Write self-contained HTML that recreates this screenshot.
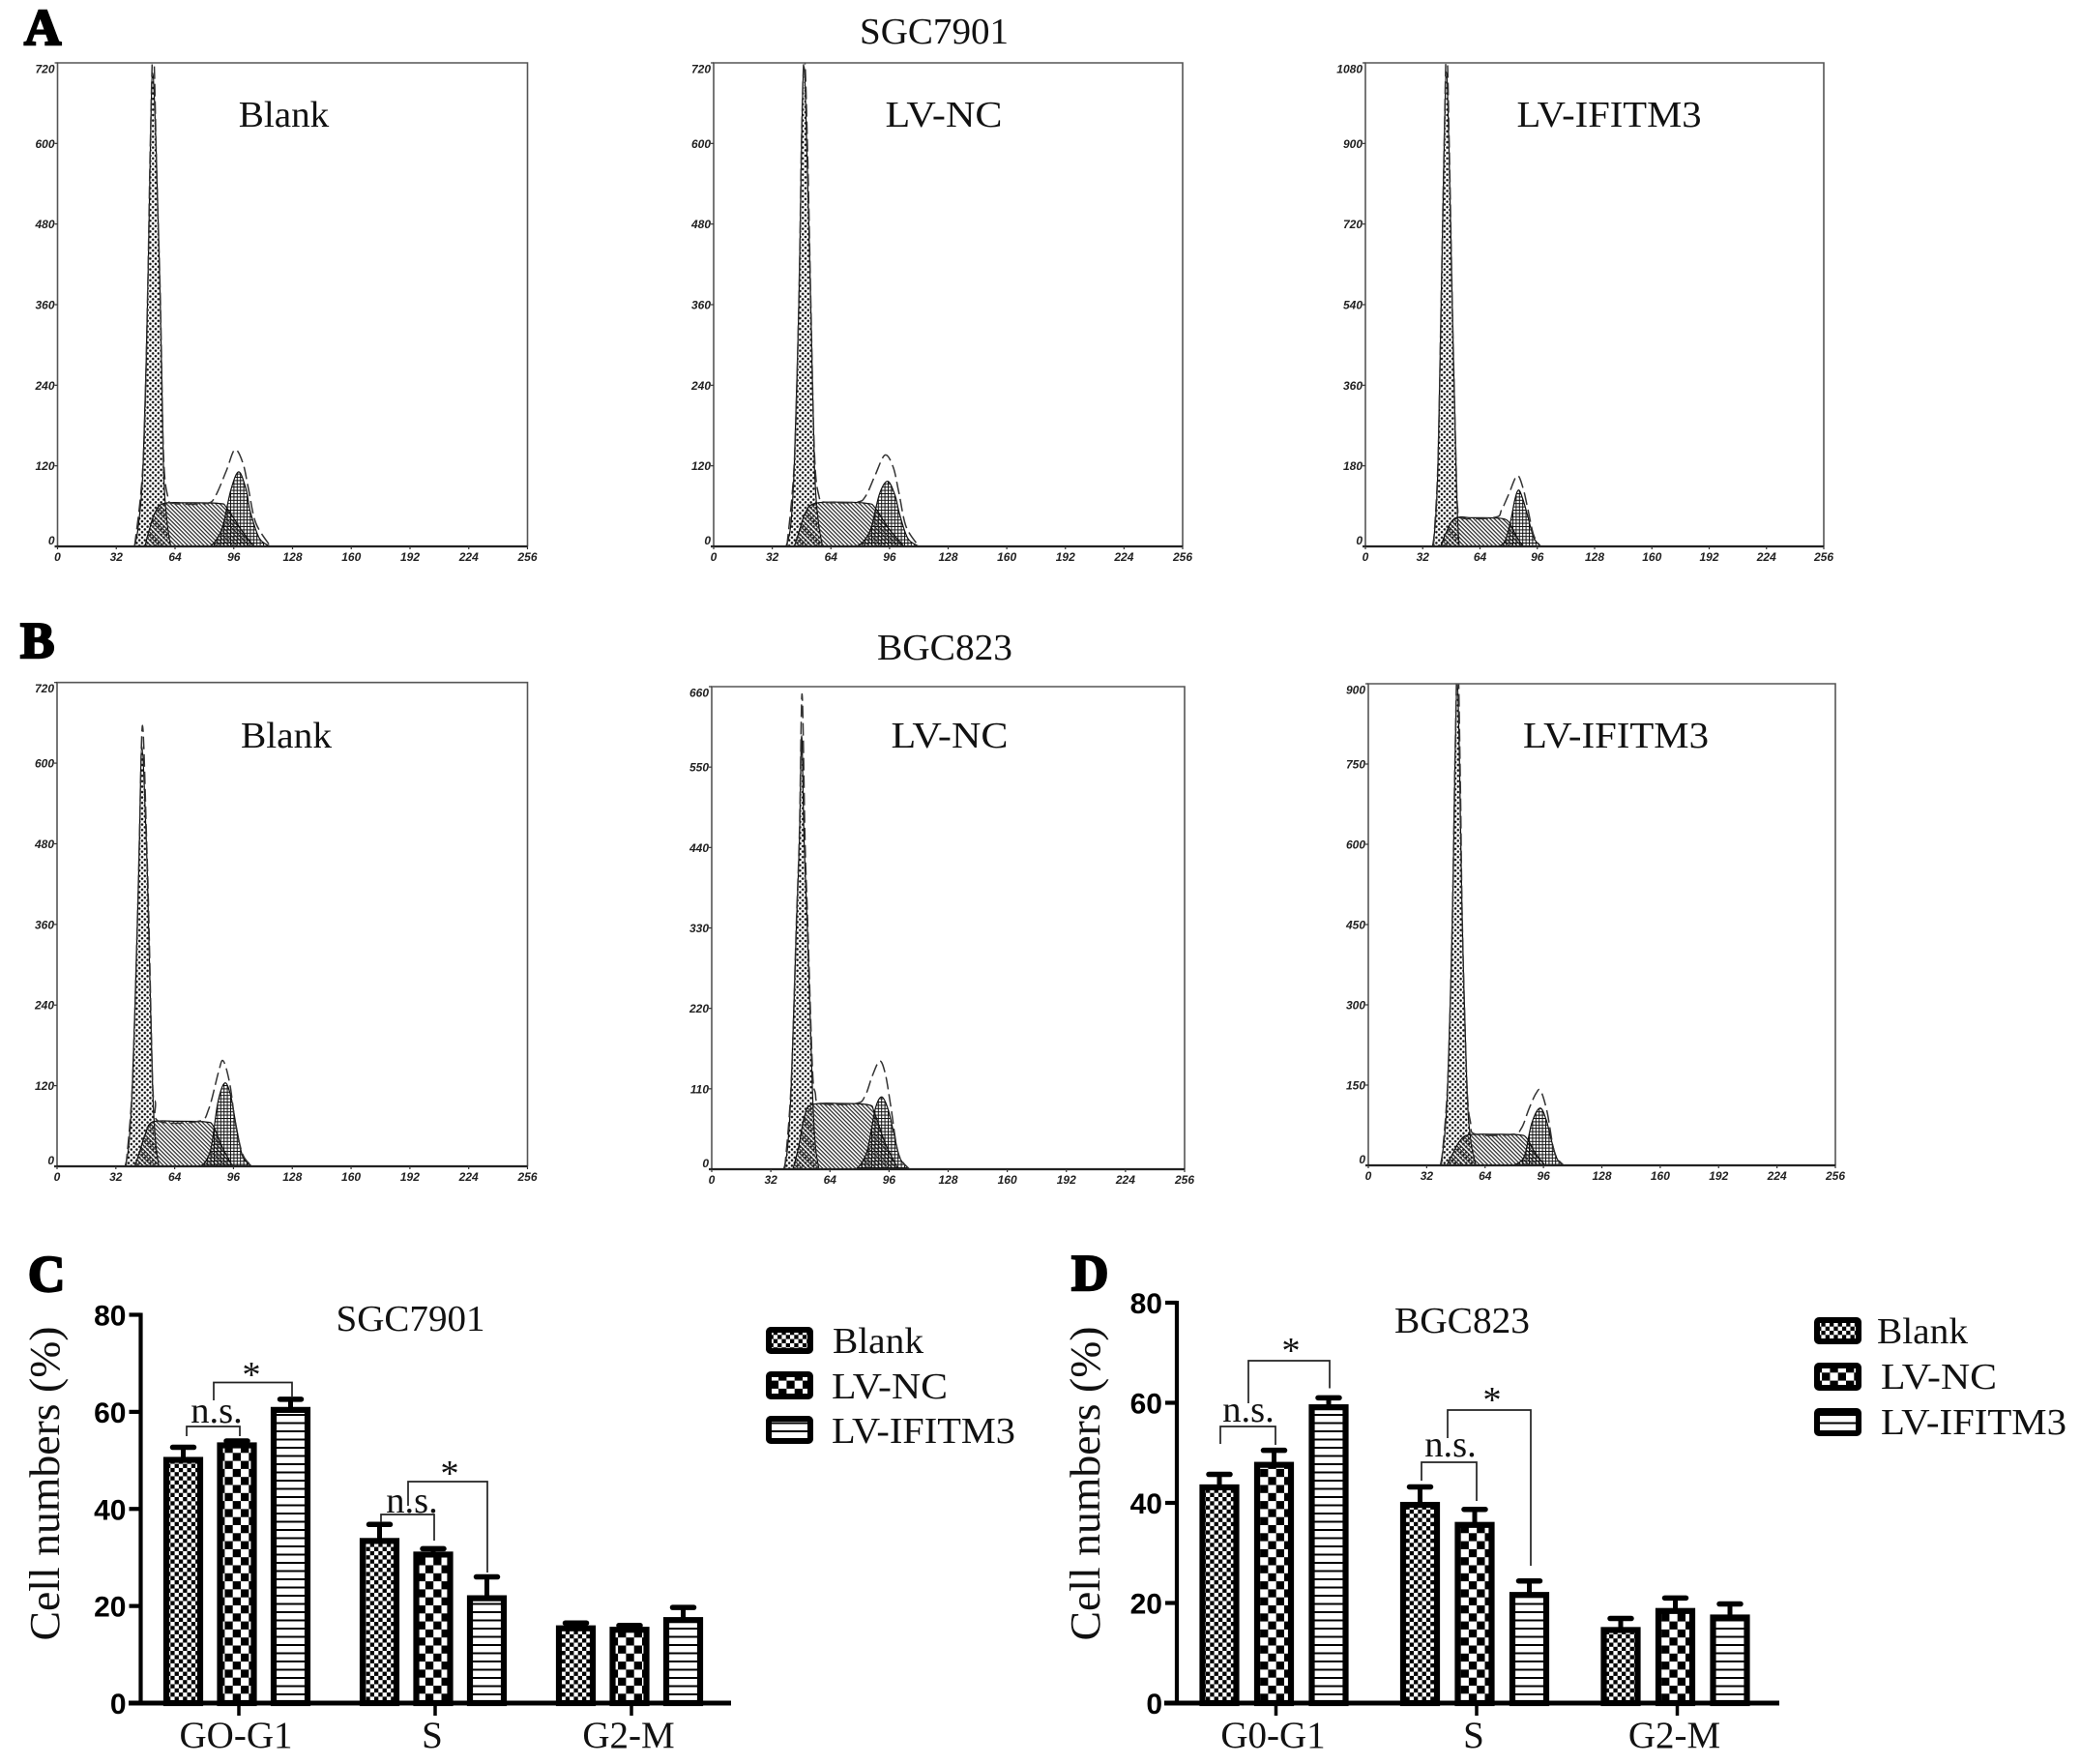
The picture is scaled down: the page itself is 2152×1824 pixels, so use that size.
<!DOCTYPE html>
<html lang="en">
<head>
<meta charset="utf-8">
<title>Cell cycle analysis</title>
<style>
html,body{margin:0;padding:0;background:#fff;width:2152px;height:1824px;overflow:hidden}
svg{display:block}
text{font-family:"Liberation Serif",serif;fill:#111}
.big{font-size:38.5px}
.xl{font-size:39px}
.letter{font-size:53px;font-weight:bold;stroke:#000;stroke-width:2.4px;fill:#000}
.nt{font-size:12px;font-family:"Liberation Sans",sans-serif;font-weight:bold;font-style:italic;fill:#222}
.bt{font-size:30px;font-family:"Liberation Sans",sans-serif;font-weight:bold;fill:#000}
</style>
</head>
<body>
<svg id="figure" xmlns="http://www.w3.org/2000/svg" width="2152" height="1824" viewBox="0 0 2152 1824">
<defs>
<pattern id="g1Dots" patternUnits="userSpaceOnUse" width="5.6" height="5.6"><circle cx="1.4" cy="1.4" r="1.25" fill="#111"/><circle cx="4.2" cy="4.2" r="1.25" fill="#111"/></pattern>
<pattern id="sHatch" patternUnits="userSpaceOnUse" width="3" height="3" patternTransform="rotate(45)"><rect width="3" height="1.25" fill="#2a2a2a"/></pattern>
<pattern id="g2Cross" patternUnits="userSpaceOnUse" width="3.4" height="3.4"><rect width="3.4" height="1" fill="#111"/><rect width="1" height="3.4" fill="#111"/></pattern>
<pattern id="blankCheck" patternUnits="userSpaceOnUse" width="8.6" height="8.6"><rect width="8.6" height="8.6" fill="#fff"/><rect width="4.3" height="4.3" fill="#000"/><rect x="4.3" y="4.3" width="4.3" height="4.3" fill="#000"/></pattern>
<pattern id="ncCheck" patternUnits="userSpaceOnUse" width="16.6" height="16.6"><rect width="16.6" height="16.6" fill="#fff"/><rect width="8.3" height="8.3" fill="#000"/><rect x="8.3" y="8.3" width="8.3" height="8.3" fill="#000"/></pattern>
<pattern id="ifStripe" patternUnits="userSpaceOnUse" width="8.5" height="8.5"><rect width="8.5" height="8.5" fill="#fff"/><rect width="8.5" height="2" fill="#000"/></pattern>
</defs>

<text class="letter" x="25" y="46">A</text>
<text class="letter" x="21" y="680">B</text>
<text class="letter" x="29" y="1335">C</text>
<text class="letter" x="1108" y="1334">D</text>

<text class="big" x="966" y="45" text-anchor="middle" textLength="154" lengthAdjust="spacingAndGlyphs">SGC7901</text>
<text class="big" x="977" y="682" text-anchor="middle" textLength="140" lengthAdjust="spacingAndGlyphs">BGC823</text>

<g id="histograms"></g>

<text class="big" x="293.5" y="131" text-anchor="middle" textLength="93.5" lengthAdjust="spacingAndGlyphs">Blank</text>
<text class="big" x="976" y="131" text-anchor="middle" textLength="121" lengthAdjust="spacingAndGlyphs">LV-NC</text>
<text class="big" x="1664" y="131" text-anchor="middle" textLength="191" lengthAdjust="spacingAndGlyphs">LV-IFITM3</text>
<text class="big" x="296" y="773" text-anchor="middle" textLength="94" lengthAdjust="spacingAndGlyphs">Blank</text>
<text class="big" x="982" y="773" text-anchor="middle" textLength="121" lengthAdjust="spacingAndGlyphs">LV-NC</text>
<text class="big" x="1671" y="773" text-anchor="middle" textLength="192" lengthAdjust="spacingAndGlyphs">LV-IFITM3</text>

<g id="barcharts"></g>

<text class="big" x="424.5" y="1376" text-anchor="middle" textLength="154" lengthAdjust="spacingAndGlyphs">SGC7901</text>
<text class="big" x="1512" y="1378" text-anchor="middle" textLength="140" lengthAdjust="spacingAndGlyphs">BGC823</text>

<text class="big" transform="translate(61,1534) rotate(-90)" text-anchor="middle" textLength="325" lengthAdjust="spacingAndGlyphs" style="font-size:44px">Cell numbers (%)</text>
<text class="big" transform="translate(1137,1534) rotate(-90)" text-anchor="middle" textLength="325" lengthAdjust="spacingAndGlyphs" style="font-size:44px">Cell numbers (%)</text>

<g>
<rect x="795" y="1375" width="43" height="22" rx="2" fill="url(#blankCheck)" stroke="#000" stroke-width="6"/>
<text class="big" x="861" y="1399" textLength="94" lengthAdjust="spacingAndGlyphs">Blank</text>
<rect x="795" y="1421" width="43" height="23" rx="2" fill="url(#ncCheck)" stroke="#000" stroke-width="6"/>
<text class="big" x="860" y="1446" textLength="120" lengthAdjust="spacingAndGlyphs">LV-NC</text>
<rect x="795" y="1467" width="43" height="23" rx="2" fill="url(#ifStripe)" stroke="#000" stroke-width="6"/>
<text class="big" x="860" y="1492" textLength="190" lengthAdjust="spacingAndGlyphs">LV-IFITM3</text>
</g>
<g>
<rect x="1879" y="1365" width="43" height="22" rx="2" fill="url(#blankCheck)" stroke="#000" stroke-width="6"/>
<text class="big" x="1941" y="1389" textLength="94" lengthAdjust="spacingAndGlyphs">Blank</text>
<rect x="1879" y="1412" width="43" height="23" rx="2" fill="url(#ncCheck)" stroke="#000" stroke-width="6"/>
<text class="big" x="1945" y="1436" textLength="120" lengthAdjust="spacingAndGlyphs">LV-NC</text>
<rect x="1879" y="1459" width="43" height="23" rx="2" fill="url(#ifStripe)" stroke="#000" stroke-width="6"/>
<text class="big" x="1945" y="1483" textLength="192" lengthAdjust="spacingAndGlyphs">LV-IFITM3</text>
</g>
</svg>

<script>
/* ---------- histogram data (channel, count) ---------- */
const xTickValues = [0,32,64,96,128,160,192,224,256];

const a1YTicks = [0,120,240,360,480,600,720];
const a1G1Ch = [41.9,44,46.6,49,50.6,51.8,53.6,56,57.7,59.5,61.7];
const a1G1Ct = [0,30,120,360,600,705,600,360,120,40,0];
const a1SCh = [47.6,50,53,57.7,70,88,92,100,107];
const a1SCt = [0,25,50,64,65,64,58,25,0];
const a1G2Ch = [83,86,90,94.5,98.7,102.7,105,110,116];
const a1G2Ct = [0,8,30,85,111,85,52,12,0];
const a1TotCh = [42,46.6,49,50.6,52.2,54,56,57.7,60,63.8,81,86,92,96.6,101,104,108,116];
const a1TotCt = [0,125,365,610,745,560,370,140,75,64,64,75,113,144,124,86,35,0];

const a2YTicks = [0,120,240,360,480,600,720];
const a2G1Ch = [39.5,42,44,46.5,48,49.3,50.8,53,55,57,59.5];
const a2G1Ct = [0,30,120,360,600,715,600,360,120,40,0];
const a2SCh = [44,47,50,55,70,84,88,96,104];
const a2SCt = [0,25,50,64,66,64,58,25,0];
const a2G2Ch = [78,82,86,90.5,95,99,101.5,106,112];
const a2G2Ct = [0,8,28,78,97,76,48,12,0];
const a2TotCh = [40,44,46.5,48,49.6,51.5,53,55,57.5,61,78,83,88,93.5,98,101,105,112];
const a2TotCt = [0,125,365,610,730,560,370,140,75,66,66,75,105,136,118,82,30,0];

const a3YTicks = [0,180,360,540,720,900,1080];
const a3G1Ch = [37.5,39,40.5,42.3,44,45.2,46.6,48.5,50.6,51.5,52.4];
const a3G1Ct = [0,50,180,540,900,1060,900,540,180,60,0];
const a3SCh = [42,45,50,60,74.4,80,84,88];
const a3SCt = [0,30,63,64,63,55,25,0];
const a3G2Ch = [74.4,78,81,83.5,85.6,88,90.5,94,97.8];
const a3G2Ct = [0,12,55,105,126,105,70,20,0];
const a3TotCh = [38,40.5,42.3,44,45.4,47,48.5,50.6,51.5,53.7,72.6,76,80,84.7,88,91,94,97.8];
const a3TotCt = [0,185,545,905,1120,860,545,190,85,63,65,81,116,158,131,78,25,0];

const b1YTicks = [0,120,240,360,480,600,720];
const b1G1Ch = [37,39,41,43.7,44.8,46.2,48.6,49.8,52,53.5,55.4];
const b1G1Ct = [0,30,120,360,480,625,480,360,120,40,0];
const b1SCh = [42.3,45,48,52,65,80.8,85,90,95.6];
const b1SCt = [0,22,48,66,67,66,60,28,0];
const b1G2Ch = [78,81,84,87.5,91.3,94.5,97.5,101,106];
const b1G2Ct = [0,8,30,95,124,105,60,15,0];
const b1TotCh = [37.5,41,43.7,44.8,46.5,48.8,50,52,53.5,55.4,77,82.5,87.8,90.4,94,97,101,106];
const b1TotCt = [0,122,362,485,656,480,362,125,95,67,67,85,140,157,123,65,18,0];

const b2YTicks = [0,110,220,330,440,550,660];
const b2G1Ch = [39,41,43,45.8,47.5,48.7,50,51.8,54.5,56,58];
const b2G1Ct = [0,28,110,330,450,593,450,330,110,35,0];
const b2SCh = [44,47,50,54,70,85,88,94,101];
const b2SCt = [0,30,70,88,90,88,78,35,0];
const b2G2Ch = [78,81,84.5,88.5,92,95.5,98.5,102,107];
const b2G2Ct = [0,8,28,82,99,82,50,15,0];
const b2TotCh = [39.5,43,45.8,47.5,48.9,50.5,52,54.5,56,59,78,83,87,91,94,97,101,107];
const b2TotCt = [0,115,335,460,650,450,335,140,105,90,90,100,128,148,130,85,22,0];

const b3YTicks = [0,150,300,450,600,750,900];
const b3G1Ch = [39.5,41.5,43.5,46,47.5,48.7,50,51.5,54,56,59];
const b3G1Ct = [0,45,150,450,750,900,750,450,150,50,0];
const b3SCh = [43,46,50,55,70,83,87,92,97];
const b3SCt = [0,20,45,57,58,57,50,20,0];
const b3G2Ch = [79,83,86,89.5,94,97.5,100.5,103.5,107];
const b3G2Ct = [0,6,22,78,107,85,45,12,0];
const b3TotCh = [40,43.5,46,47.5,49,50.5,51.5,54,56,59,79,84,88,92,94.5,98,102,107];
const b3TotCt = [0,155,455,755,960,700,455,155,80,58,58,70,105,135,139,100,25,0];

/* ---------- bar chart data ---------- */
const cCategories = ["GO-G1","S","G2-M"];
const dCategories = ["G0-G1","S","G2-M"];
const barYTicks = [0,20,40,60,80];
const cBlank = [50.1,33.4,15.4];
const cBlankErr = [2.6,3.4,1.1];
const cNc = [53.1,30.6,15.1];
const cNcErr = [0.9,1.2,0.9];
const cIf = [60.4,21.6,17.1];
const cIfErr = [2.2,4.4,2.6];
const dBlank = [43.1,39.6,14.6];
const dBlankErr = [2.6,3.6,2.3];
const dNc = [47.6,35.6,18.4];
const dNcErr = [2.9,3.1,2.6];
const dIf = [59.1,21.6,17.1];
const dIfErr = [1.9,2.8,2.7];

const NS = 'http://www.w3.org/2000/svg';
function mk(parent, tag, attrs, text){
  const el = document.createElementNS(NS, tag);
  for (const k in attrs) el.setAttribute(k, attrs[k]);
  if (text !== undefined) el.textContent = text;
  parent.appendChild(el);
  return el;
}
function smooth(pts){
  let d = 'M' + pts[0][0].toFixed(1) + ' ' + pts[0][1].toFixed(1);
  for (let i = 0; i < pts.length - 1; i++){
    const p0 = pts[Math.max(i-1,0)], p1 = pts[i], p2 = pts[i+1], p3 = pts[Math.min(i+2,pts.length-1)];
    const c1x = p1[0] + (p2[0]-p0[0])/6, c1y = p1[1] + (p2[1]-p0[1])/6;
    const c2x = p2[0] - (p3[0]-p1[0])/6, c2y = p2[1] - (p3[1]-p1[1])/6;
    d += 'C' + c1x.toFixed(1) + ' ' + c1y.toFixed(1) + ' ' + c2x.toFixed(1) + ' ' + c2y.toFixed(1) + ' ' + p2[0].toFixed(1) + ' ' + p2[1].toFixed(1);
  }
  return d;
}

function drawHist(id, left, right, top, bottom, yTicks, g1Ch, g1Ct, sCh, sCt, g2Ch, g2Ct, totCh, totCt){
  const root = document.getElementById('histograms');
  const g = mk(root, 'g', {});
  
  
  const xMax = xTickValues[xTickValues.length-1], yMax = yTicks[yTicks.length-1];
  const sx = c => left + c/xMax*(right-left);
  const sy = v => bottom - v/yMax*(bottom-top);

  const clip = mk(g, 'clipPath', {id:'clip-'+id});
  mk(clip, 'rect', {x:left, y:top, width:right-left, height:bottom-top});
  const plot = mk(g, 'g', {'clip-path':'url(#clip-'+id+')'});

  const area = (chs, cts, fill, name) => {
    const pts = chs.map((c,i)=>[sx(c), sy(cts[i])]);
    const el = mk(plot, 'path', {d: smooth(pts)+'Z', fill: fill, stroke:'#111', 'stroke-width':'1.2'});
    
    
  };
  area(g1Ch, g1Ct, 'url(#g1Dots)', 'g1-peak');
  area(sCh, sCt, 'url(#sHatch)', 's-phase');
  area(g2Ch, g2Ct, 'url(#g2Cross)', 'g2-peak');
  const totPts = totCh.map((c,i)=>[sx(c), sy(totCt[i])]);
  const tot = mk(plot, 'path', {d: smooth(totPts), fill:'none', stroke:'#333', 'stroke-width':'1.5', 'stroke-dasharray':'13 5'});
  
  

  const frame = mk(g, 'path', {d:'M'+left+' '+bottom+'V'+top+'H'+right+'V'+bottom, fill:'none', stroke:'#555', 'stroke-width':'1.6'});
  
  
  const base = mk(g, 'line', {x1:left-3, x2:right, y1:bottom, y2:bottom, stroke:'#222', 'stroke-width':'2.2'});
  
  

  xTickValues.forEach(v => {
    const tk = mk(g, 'line', {x1:sx(v), x2:sx(v), y1:bottom, y2:bottom+3, stroke:'#333', 'stroke-width':'1.2'});
    
    
    const t = mk(g, 'text', {class:'nt', x:sx(v), y:bottom+15, 'text-anchor':'middle'}, v);
    
    
  });
  yTicks.forEach((v,i) => {
    const y = sy(v);
    const tk = mk(g, 'line', {x1:left-3, x2:left, y1:y, y2:y, stroke:'#333', 'stroke-width':'1.2'});
    
    
    const ly = i===0 ? y-2 : (i===yTicks.length-1 ? y+10.5 : y+4.5);
    const t = mk(g, 'text', {class:'nt', x:left-3, y:ly, 'text-anchor':'end'}, v);
    
    
  });
}

drawHist('a1', 59.5, 545.5, 65, 565, a1YTicks, a1G1Ch, a1G1Ct, a1SCh, a1SCt, a1G2Ch, a1G2Ct, a1TotCh, a1TotCt);
drawHist('a2', 738, 1223, 65, 565, a2YTicks, a2G1Ch, a2G1Ct, a2SCh, a2SCt, a2G2Ch, a2G2Ct, a2TotCh, a2TotCt);
drawHist('a3', 1412, 1886, 65, 565, a3YTicks, a3G1Ch, a3G1Ct, a3SCh, a3SCt, a3G2Ch, a3G2Ct, a3TotCh, a3TotCt);
drawHist('b1', 59, 545.5, 705.7, 1206, b1YTicks, b1G1Ch, b1G1Ct, b1SCh, b1SCt, b1G2Ch, b1G2Ct, b1TotCh, b1TotCt);
drawHist('b2', 736, 1225, 710, 1209, b2YTicks, b2G1Ch, b2G1Ct, b2SCh, b2SCt, b2G2Ch, b2G2Ct, b2TotCh, b2TotCt);
drawHist('b3', 1415, 1898, 707, 1205, b3YTicks, b3G1Ch, b3G1Ct, b3SCh, b3SCt, b3G2Ch, b3G2Ct, b3TotCh, b3TotCt);

function drawBars(id, axisX, xStart, xEnd, y0, y80, groupX, step, cats, blank, blankErr, nc, ncErr, ifv, ifErr){
  const root = document.getElementById('barcharts');
  const g = mk(root, 'g', {});
  
  
  const yMax = barYTicks[barYTicks.length-1];
  const sy = v => y0 - v/yMax*(y0-y80);
  const W = 41;
  const seriesList = [[blank,blankErr,'blankCheck','blank'],[nc,ncErr,'ncCheck','lv-nc'],[ifv,ifErr,'ifStripe','lv-ifitm3']];
  seriesList.forEach((s,si) => {
    s[0].forEach((v,gi) => {
      const cx = groupX(gi) + (si-1)*step - 2;
      const stem = mk(g, 'line', {x1:cx, x2:cx, y1:sy(v), y2:sy(v+s[1][gi]), stroke:'#000', 'stroke-width':'5'});
      
      
      const cap = mk(g, 'line', {x1:cx-11, x2:cx+11, y1:sy(v+s[1][gi]), y2:sy(v+s[1][gi]), stroke:'#000', 'stroke-width':'5.5', 'stroke-linecap':'round'});
      
      
      const bar = mk(g, 'rect', {x:cx-W/2+3, y:sy(v), width:W-6, height:y0-sy(v), fill:'url(#'+s[2]+')', stroke:'#000', 'stroke-width':'6.2'});
      
      
    });
  });
  const ya = mk(g, 'line', {x1:axisX, x2:axisX, y1:y80-2, y2:y0, stroke:'#000', 'stroke-width':'4.2'});
  
  
  const xa = mk(g, 'line', {x1:xStart, x2:xEnd, y1:y0, y2:y0, stroke:'#000', 'stroke-width':'5'});
  
  
  barYTicks.forEach(v => {
    const tk = mk(g, 'line', {x1:axisX-12, x2:axisX, y1:sy(v), y2:sy(v), stroke:'#000', 'stroke-width':'4.2'});
    
    
    const t = mk(g, 'text', {class:'bt', x:axisX-15, y:sy(v)+11, 'text-anchor':'end'}, v);
    
    
  });
  cats.forEach((c,i) => {
    const x = groupX(i);
    const tk = mk(g, 'line', {x1:x, x2:x, y1:y0, y2:y0+13, stroke:'#000', 'stroke-width':'3.5'});
    
    
    const t = mk(g, 'text', {class:'xl', x:x-3, y:1807, 'text-anchor':'middle'}, c);
    
    
  });
}

drawBars('c', 145.5, 133, 756, 1761, 1359.5, i => 247 + i*203, 55.5, cCategories, cBlank, cBlankErr, cNc, cNcErr, cIf, cIfErr);
drawBars('d', 1217, 1204, 1840, 1761, 1347, i => 1319.5 + i*207.5, 56.5, dCategories, dBlank, dBlankErr, dNc, dNcErr, dIf, dIfErr);

/* significance brackets */
function bracket(name, x1, x2, top, leftEnd, rightEnd){
  const root = document.getElementById('barcharts');
  const p = mk(root, 'path', {d:'M'+x1+' '+leftEnd+'V'+top+'H'+x2+'V'+rightEnd, fill:'none', stroke:'#222', 'stroke-width':'1.7'});
  
  
}
function note(name, str, x, y){
  const root = document.getElementById('barcharts');
  const t = mk(root, 'text', {class:'big', x:x, y:y, 'text-anchor':'middle'}, str);
  
  
}
bracket('c-g1-ns-bracket', 193, 248, 1475, 1485, 1485);
note('c-g1-ns-label', 'n.s.', 224, 1471);
bracket('c-g1-star-bracket', 221, 302, 1429.5, 1448, 1444);
note('c-g1-star-label', '*', 260, 1434);
bracket('c-s-ns-bracket', 394, 449, 1566, 1574, 1593);
note('c-s-ns-label', 'n.s.', 426, 1564);
bracket('c-s-star-bracket', 422, 504, 1532, 1557, 1626);
note('c-s-star-label', '*', 465, 1536);
bracket('d-g1-ns-bracket', 1262, 1319, 1475, 1493, 1494);
note('d-g1-ns-label', 'n.s.', 1291, 1470);
bracket('d-g1-star-bracket', 1291, 1375, 1407, 1451, 1435.5);
note('d-g1-star-label', '*', 1335, 1409);
bracket('d-s-ns-bracket', 1470, 1527, 1512, 1531, 1552);
note('d-s-ns-label', 'n.s.', 1500, 1506);
bracket('d-s-star-bracket', 1497, 1583, 1458, 1487, 1619);
note('d-s-star-label', '*', 1543, 1460);
</script>
</body>
</html>
